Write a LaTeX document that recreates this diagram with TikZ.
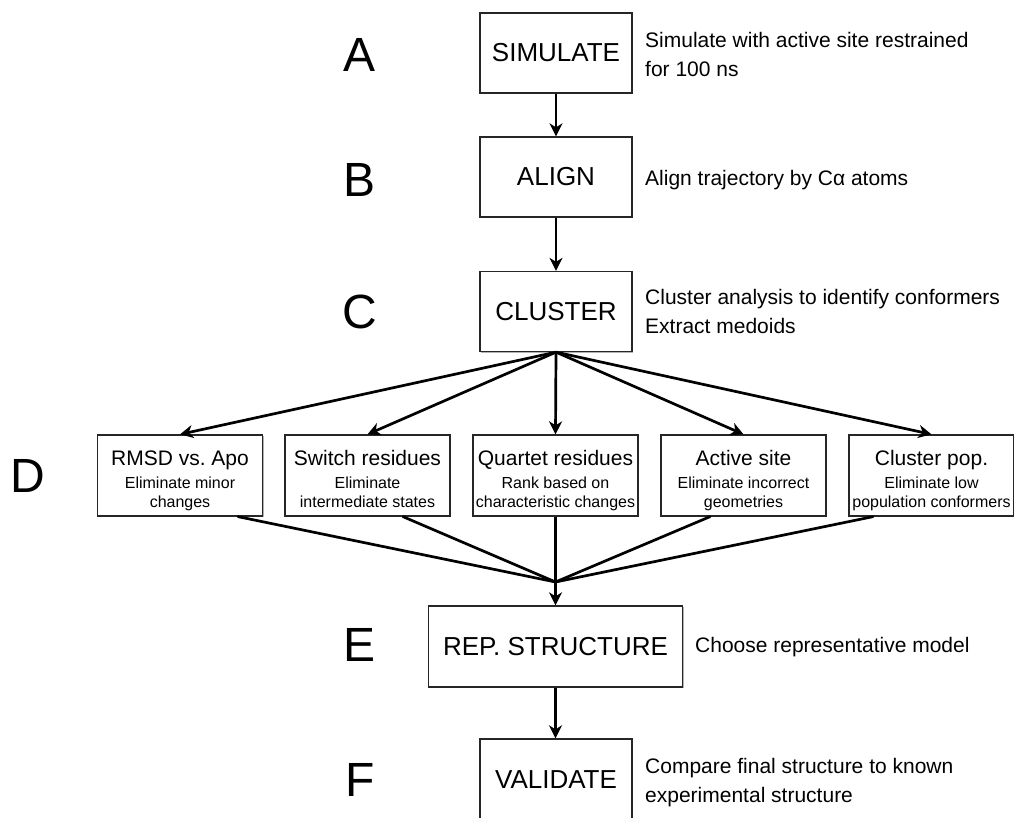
\documentclass[tikz,border=0pt]{standalone}
\usepackage{fontspec}
\setmainfont{Liberation Sans}
\usetikzlibrary{arrows.meta,calc,shadows}
\newcommand\dtitlefont{\fontsize{21}{25}\selectfont\rule{0pt}{27.5pt}}
\newcommand\dsubend{\rule[-5.7pt]{0pt}{5.7pt}}
\begin{document}
\begin{tikzpicture}[x=1pt,y=-1pt,
  base/.style={draw=black!85,line width=1.3pt,fill=white,inner sep=0pt,
    drop shadow={shadow xshift=1.3pt,shadow yshift=-1.3pt,fill=black,opacity=0.3}},
  box/.style={base,minimum width=152pt,minimum height=80pt,font=\fontsize{26}{30}\selectfont},
  dbox/.style={base,minimum width=165pt,minimum height=81pt,align=center,font=\fontsize{16}{19}\selectfont},
  lbl/.style={font=\fontsize{48}{50}\selectfont},
  desc/.style={anchor=west,align=left,inner sep=0pt,font=\fontsize{21}{29}\selectfont},
  conn/.style={line width=2.7pt,line cap=round},
  arr/.style={line width=2.7pt,-{Stealth[length=13pt,width=13pt,inset=4pt]}}]
\useasboundingbox (0,0) rectangle (1014,818);

% main column
\node[box] (sim) at (556,53) {SIMULATE};
\node[box] (align) at (556,177) {ALIGN};
\node[box] (clus) at (556,311.5) {CLUSTER};
\node[box,minimum width=254pt,minimum height=81pt] (rep) at (555.5,646.5) {REP.\ STRUCTURE};
\node[box,minimum height=82pt] (val) at (556,780) {VALIDATE};

% D row
\node[dbox] (d1) at (180,475.5) {{\dtitlefont RMSD vs.\ Apo}\\[4pt]Eliminate minor\\changes\dsubend};
\node[dbox] (d2) at (367.5,475.5) {{\dtitlefont Switch residues}\\[4pt]Eliminate\\intermediate states\dsubend};
\node[dbox] (d3) at (555.5,475.5) {{\dtitlefont Quartet residues}\\[4pt]Rank based on\\characteristic changes\dsubend};
\node[dbox] (d4) at (743.5,475.5) {{\dtitlefont Active site}\\[4pt]Eliminate incorrect\\geometries\dsubend};
\node[dbox] (d5) at (931.5,475.5) {{\dtitlefont Cluster pop.}\\[4pt]Eliminate low\\population conformers\dsubend};

% letters
\node[lbl] (la) at (360,55) {A};
\node[lbl] (lb) at (360,180) {B};
\node[lbl] (lc) at (360,312) {C};
\node[lbl] (ld) at (28,476) {D};
\node[lbl] (le) at (360,645) {E};
\node[lbl] (lf) at (360,780) {F};

% descriptions
\node[desc] (tsim) at (645,54) {Simulate with active site restrained\\for 100 ns};
\node[desc] (talign) at (645,180) {Align trajectory by Cα atoms};
\node[desc] (tclus) at (645,311) {Cluster analysis to identify conformers\\Extract medoids};
\node[desc] (trep) at (695,647) {Choose representative model};
\node[desc] (tval) at (645,783) {Compare final structure to known\\experimental structure};

% connectors
\draw[arr] (sim.south) -- (sim.south |- align.north);
\draw[arr] (align.south) -- (clus.north);
\foreach \d in {d1,d2,d3,d4,d5}{
  \draw[arr] (clus.south) -- (\d.north);
}
\coordinate (m) at (555.5,582);
\draw[conn] ($(d1.south)+(58,0)$) -- (m);
\draw[conn] ($(d2.south)+(35.5,0)$) -- (m);
\draw[conn] ($(d4.south)+(-33.5,0)$) -- (m);
\draw[conn] ($(d5.south)+(-58.5,0)$) -- (m);
\draw[arr] (d3.south) -- (d3.south |- rep.north);
\draw[arr] (rep.south) -- (rep.south |- val.north);
\end{tikzpicture}
\end{document}
